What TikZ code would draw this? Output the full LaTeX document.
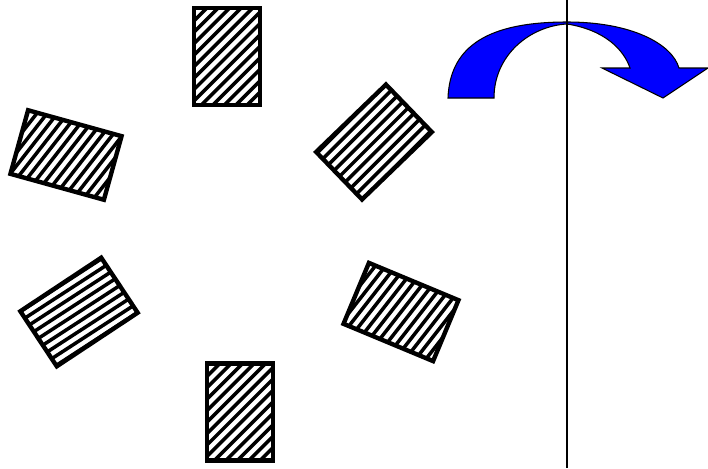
\documentclass[tikz,border=0pt]{standalone}
\usetikzlibrary{calc}
\begin{document}
\begin{tikzpicture}[x=0.02cm,y=0.02cm,
  plate/.style={draw=black,line width=2.5pt,line join=miter},
  hatch/.style={line width=2pt},
  axis/.style={line width=1.1pt},
  turn/.style={fill=blue,draw=black,line width=0.6pt}]
\useasboundingbox (0,0) rectangle (708,468);
% plates: centre x / centre y / tilt / hatch angle
\foreach \cx/\cy/\tilt/\hang in {227/411.5/0/45, 66/313/74.5/52, 374/326/-46/45, 79/156/-56.5/33, 401/156/67.4/52, 240/56/0/45}{
  \begin{scope}[shift={(\cx,\cy)},rotate=\tilt]
    \begin{scope}
      \clip (-33,-48.5) rectangle (33,48.5);
      \begin{scope}[rotate={\hang-(\tilt)}]
        \foreach \k in {-8,...,8} \draw[hatch] (-70,\k*8.1) -- (70,\k*8.1);
      \end{scope}
    \end{scope}
    \draw[plate] (-33,-48.5) rectangle (33,48.5);
  \end{scope}
}
% curved arrow
\draw[turn] (448,370) .. controls (450,423) and (490,446) .. (567,446)
  .. controls (632,446) and (672,424) .. (679,400)
  -- (708,400) -- (663,370) -- (602,400) -- (630,400)
  .. controls (624,418) and (605,438) .. (567,444)
  .. controls (530,442) and (494,413) .. (494,370) -- cycle;
% axis
\coordinate (axtop) at (567,468);
\coordinate (axbot) at (567,0);
\draw[axis] (axtop) -- (axbot);
\end{tikzpicture}
\end{document}
